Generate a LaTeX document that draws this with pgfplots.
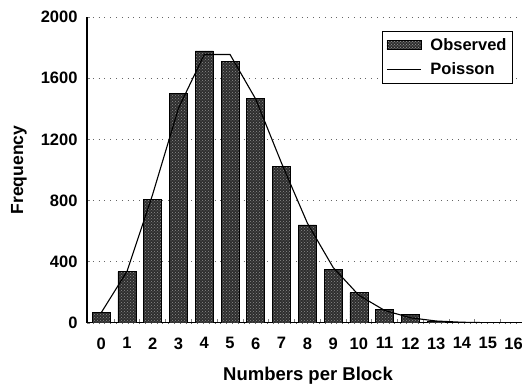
\documentclass[border=0pt]{standalone}
\usepackage{pgfplots}
\pgfplotsset{compat=1.18}
\usepackage{fontspec}
\setmainfont{Liberation Sans}
\usetikzlibrary{patterns}
\begin{document}
\begin{tikzpicture}
\useasboundingbox (0,0) rectangle (522pt,385pt);
\clip (0,0) rectangle (522pt,385pt);
\begin{axis}[
  at={(87pt,62pt)}, anchor=south west,
  scale only axis, width=442pt, height=306pt,
  xmin=-0.55, xmax=16.6, ymin=0, ymax=2000,
  axis x line*=bottom, axis y line*=left,
  axis line style={line width=1pt},
  xtick={0,...,16},
  minor xtick={0.5,1.5,...,15.5},
  major x tick style={draw=none},
  minor x tick style={line width=0.8pt},
  minor tick length=4pt,
  tick align=inside,
  ytick={0,400,...,2000},
  major y tick style={line width=0.8pt},
  major tick length=3pt,
  ymajorgrids,
  major grid style={black!60, line width=0.9pt, dash pattern=on 0.8pt off 5pt},
  /pgf/number format/1000 sep={},
  /pgf/number format/assume math mode=true,
  ticklabel style={font=\bfseries\fontsize{16.5}{18}\selectfont},
  yticklabel style={xshift=-6pt},
  xticklabel style={yshift=-11pt},
  xlabel={Numbers per Block},
  ylabel={Frequency},
  xlabel style={font=\bfseries\fontsize{18.5}{20}\selectfont, at={(axis description cs:0.5,-0.173)}, anchor=center},
  ylabel style={font=\bfseries\fontsize{17.5}{19}\selectfont, at={(axis description cs:-0.154,0.5)}, anchor=center},
  legend style={at={(axis cs:15.98,1908)}, anchor=north east, draw=black, line width=0.9pt,
    font=\bfseries\fontsize{16.5}{18}\selectfont, inner xsep=4pt, inner ysep=5pt,
    row sep=7pt},
  legend cell align=left,
]
\addplot[ybar, bar width=18pt, draw=black, line width=0.7pt, fill=black!82,
  postaction={pattern=crosshatch dots, pattern color=black!45},
  legend image code/.code={\draw[draw=black, line width=0.7pt, fill=black!82, postaction={pattern=crosshatch dots, pattern color=black!45}] (0pt,-4.5pt) rectangle (34pt,4.5pt); \path (41pt,0pt);}]
coordinates {
 (0,68) (1,335) (2,810) (3,1500) (4,1778) (5,1708) (6,1466) (7,1022)
 (8,641) (9,351) (10,198) (11,89) (12,54) (13,12) (14,4) (15,2) (16,1)
};
\addlegendentry{Observed}
\addplot[black, line width=1.1pt, sharp plot, mark=none,
  legend image code/.code={\draw[black, line width=1.1pt] (0pt,0pt) -- (34pt,0pt); \path (41pt,0pt);}]
coordinates {
 (0,67) (1,337) (2,842) (3,1404) (4,1755) (5,1755) (6,1462) (7,1044)
 (8,653) (9,363) (10,181) (11,82) (12,34) (13,13) (14,5) (15,2) (16,0.5)
};
\addlegendentry{Poisson}
\end{axis}
\end{tikzpicture}
\end{document}
